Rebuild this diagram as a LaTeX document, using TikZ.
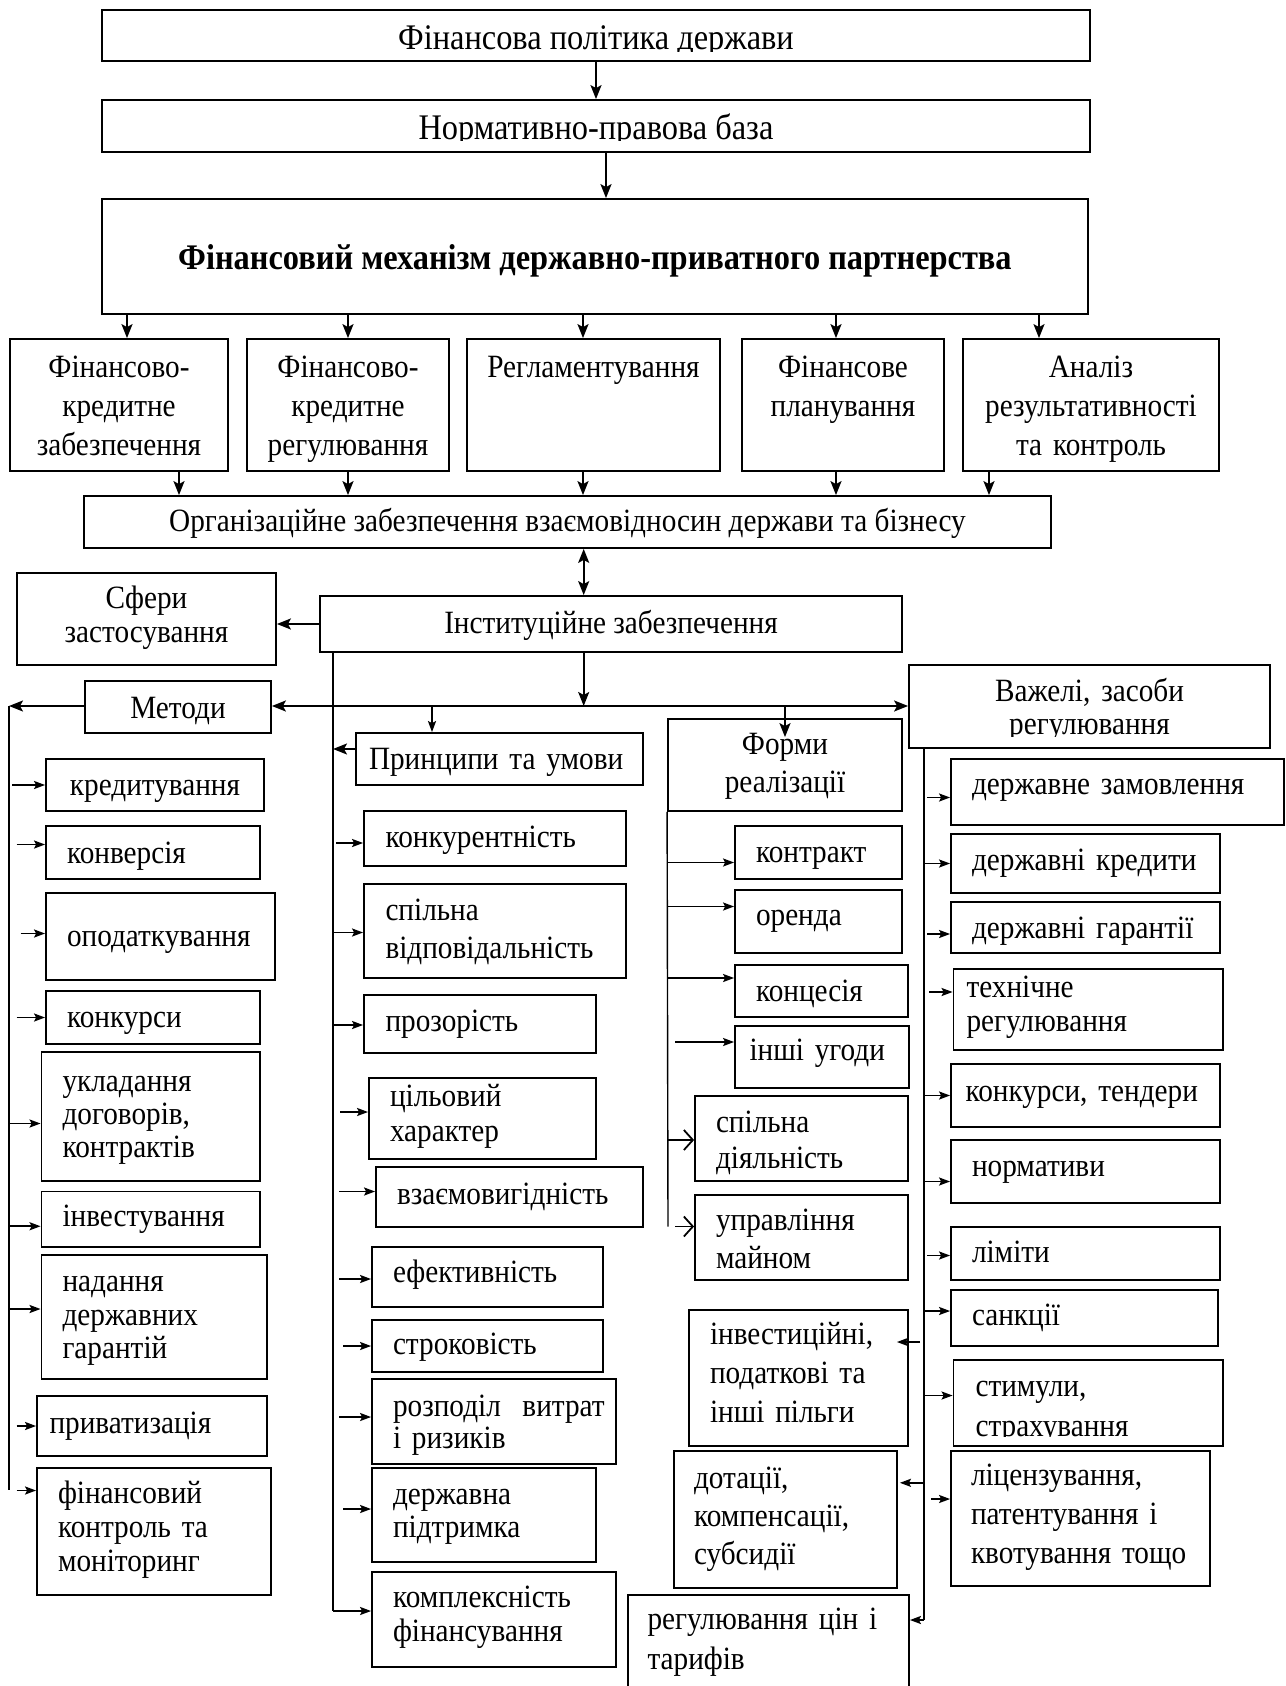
\documentclass[tikz,border=0pt]{standalone}
\usepackage{fontspec}
\setmainfont{Liberation Serif}[FakeStretch=0.9]
\usetikzlibrary{arrows.meta}
\tikzset{
  vpos/.code={\pgfmathsetmacro\vph{23+#1}\pgfmathsetmacro\vpd{23-#1}},
  box/.style={draw,line width=1.8pt,inner sep=0pt,font=\fontsize{32.5}{36}\selectfont,align=center,vpos=8,
    execute at begin node={\rule{0pt}{\vph pt}},
    execute at end node={\rule[-\vpd pt]{0pt}{0pt}}},
  ls/.style={font=\fontsize{32.5}{#1}\selectfont},
  big/.style={font=\fontsize{36}{40}\selectfont},
  lpad/.code={\pgfmathsetmacro\bxtw{\bxw-2*#1}\tikzset{text width=\bxtw pt,align=left}},
  ctr/.code={\pgfmathsetmacro\bxtw{\bxw-4}\tikzset{text width=\bxtw pt,align=center}},
  arr/.style={line width=1.8pt,-{Stealth[length=14pt,width=11pt,inset=3pt]}},
  arrD/.style={line width=1.8pt,{Stealth[length=14pt,width=11pt,inset=3pt]}-{Stealth[length=14pt,width=11pt,inset=3pt]}},
  sarr/.style={line width=1.8pt,-{Stealth[length=11pt,width=8pt,inset=2pt]}},
  oarr/.style={line width=1.8pt,-{Straight Barb[length=9pt,width=20pt]}},
  trunk/.style={line width=1.4pt}
}
\newcommand\bxn[7][]{%
  \pgfmathsetmacro\bxw{#5-#3}\pgfmathsetmacro\bxh{#6-#4}%
  \pgfmathsetmacro\bxcx{(#3+#5)/2}\pgfmathsetmacro\bxcy{(#4+#6)/2}%
  \node[box,minimum width=\bxw pt,minimum height=\bxh pt,#1] (#2) at (\bxcx,\bxcy) {#7};}
\newcommand\tarrw[5][sarr]{\draw[#1] ([xshift=#4pt,yshift=#5pt]#3.west -| #2) -- ([yshift=#5pt]#3.west);}
\begin{document}
\begin{tikzpicture}[x=1pt,y=-1pt]
\path[fill=white,use as bounding box] (0,0) rectangle (1285,1686);

% top chain
\bxn{pol}{102}{10}{1090}{61}{}
\begin{scope}
\clip ([yshift=10.5pt]pol.south west) rectangle (pol.north east);
\node[box,draw=none,big,vpos=14.5] (poltxt) at (pol.center) {Фінансова політика держави};
\end{scope}
\bxn{norm}{102}{100}{1090}{152}{}
\begin{scope}
\clip ([yshift=12.5pt]norm.south west) rectangle (norm.north east);
\node[box,draw=none,big,vpos=13.5] (normtxt) at (norm.center) {Нормативно-правова база};
\end{scope}
\bxn[font=\fontsize{36}{40}\selectfont\bfseries,vpos=12.5]{mech}{102}{199}{1088}{314}{Фінансовий механізм державно-приватного партнерства}
\bxn[ctr,ls=39,vpos=11]{rA}{10}{339}{228}{471}{Фінансово-\\кредитне\\забезпечення}
\bxn[ctr,ls=39,vpos=11]{rB}{247}{339}{449}{471}{Фінансово-\\кредитне\\регулювання}
\bxn[ctr,ls=39,vpos=11]{rC}{467}{339}{720}{471}{Регламентування\\\phantom{Р}\\\phantom{Р}}
\bxn[ctr,ls=39,vpos=11]{rD}{742}{339}{944}{471}{Фінансове\\планування\\\phantom{Р}}
\bxn[ctr,ls=39,vpos=11]{rE}{963}{339}{1219}{471}{Аналіз\\результативності\\та контроль}
\bxn[vpos=9]{org}{84}{496}{1051}{548}{Організаційне забезпечення взаємовідносин держави та бізнесу}
\bxn[ctr,ls=34,vpos=6]{sfery}{17}{573}{276}{665}{Сфери\\застосування}
\bxn[vpos=9]{inst}{320}{596}{902}{652}{Інституційне забезпечення}
\bxn[vpos=11]{metody}{85}{681}{271}{733}{Методи}
\bxn[lpad=13,vpos=10]{princ}{356}{733}{643}{785}{Принципи~та~умови}
\bxn[ctr,ls=37.5,vpos=8.6]{forms}{668}{719}{902}{811}{Форми\\реалізації}
\bxn{vaz}{909}{665}{1270}{748}{}
\begin{scope}
\clip ([yshift=12pt]vaz.south west) rectangle (vaz.north east);
\node[box,draw=none,ctr,ls=33,vpos=11] (vaztxt) at (vaz.center) {Важелі, засоби\\регулювання};
\end{scope}

% methods
\bxn[vpos=10.5]{m1}{46}{759}{264}{811}{кредитування}
\bxn[lpad=21,vpos=11]{m2}{46}{826}{260}{879}{конверсія}
\bxn[lpad=21,vpos=10.3]{m3}{46}{893}{275}{980}{оподаткування}
\bxn[lpad=21,vpos=10.4]{m4}{46}{991}{260}{1044}{конкурси}
\bxn[lpad=21,ls=33,vpos=7.5]{m5}{41.5}{1052}{260}{1181}{укладання\\договорів,\\контрактів}
\bxn[lpad=21,vpos=7]{m6}{41.5}{1191.5}{260}{1247}{інвестування}
\bxn[lpad=21,ls=33.5,vpos=8.3]{m7}{41.5}{1255}{267}{1379}{надання\\державних\\гарантій}
\bxn[lpad=12.5,vpos=7]{m8}{37}{1396}{267}{1456}{приватизація}
\bxn[lpad=21,ls=34,vpos=5.8]{m9}{37}{1468}{271}{1595}{фінансовий\\контроль~та\\моніторинг}

% principles
\bxn[lpad=21.5,vpos=9]{p1}{364}{811}{626}{866}{конкурентність}
\bxn[lpad=21.5,ls=37.5,vpos=8.6]{p2}{364}{884}{626}{978}{спільна\\відповідальність}
\bxn[lpad=21.5,vpos=7]{p3}{364}{995}{596}{1053}{прозорість}
\bxn[lpad=21,ls=35,vpos=5.5]{p4}{369}{1078}{596}{1159}{цільовий\\характер}
\bxn[lpad=21,vpos=7]{p5}{376}{1167}{643}{1227}{взаємовигідність}
\bxn[lpad=21,vpos=5]{p6}{372}{1247}{603}{1307}{ефективність}
\bxn[lpad=21,vpos=8]{p7}{372}{1320}{603}{1372}{строковість}
\bxn[lpad=21,ls=32,vpos=10.5]{p8}{372}{1379}{616}{1464}{розподіл~~витрат\\і~ризиків}
\bxn[lpad=21,ls=33,vpos=5.8]{p9}{372}{1468}{596}{1562}{державна\\підтримка}
\bxn[lpad=21,ls=34,vpos=4.8]{p10}{372}{1572}{616}{1667}{комплексність\\фінансування}

% forms
\bxn[lpad=21,vpos=9.5]{f1}{735}{826}{902}{879}{контракт}
\bxn[lpad=21,vpos=4]{f2}{735}{890}{902}{953}{оренда}
\bxn[lpad=21,vpos=10]{f3}{735}{965}{908}{1017}{концесія}
\bxn[lpad=14.5,vpos=3]{f4}{735}{1026}{909}{1088}{інші~угоди}
\bxn[lpad=21,ls=36,vpos=12]{f5}{695}{1096}{908}{1181}{спільна\\діяльність}
\bxn[lpad=21,ls=38,vpos=11.8]{f6}{695}{1195}{908}{1280}{управління\\майном}
\bxn[lpad=21,ls=39,vpos=5]{f7}{689}{1310}{908}{1446}{інвестиційні,\\податкові~та\\інші~пільги}
\bxn[lpad=20,ls=38,vpos=6.8]{f8}{674}{1451}{897}{1588}{дотації,\\компенсації,\\субсидії}
\bxn[lpad=19.5,ls=40,vpos=7]{f9}{628}{1595}{909}{1689}{регулювання~цін~і\\тарифів}

% levers
\bxn[lpad=21,vpos=2]{v1}{951}{759}{1284}{825}{державне~замовлення}
\bxn[lpad=21,vpos=6.5]{v2}{951}{834}{1220}{893}{державні~кредити}
\bxn[lpad=21,vpos=11]{v3}{951}{902}{1220}{953}{державні~гарантії}
\bxn[lpad=13,ls=34,vpos=4.8]{v4}{953.5}{969}{1223}{1050}{технічне\\регулювання}
\bxn[lpad=14.5,vpos=5.8]{v5}{951}{1064}{1220}{1127}{конкурси,~тендери}
\bxn[lpad=21,vpos=4.5]{v6}{951}{1140}{1220}{1203}{нормативи}
\bxn[lpad=21,vpos=8.8]{v7}{951}{1227}{1220}{1280}{ліміти}
\bxn[lpad=21,vpos=7.3]{v8}{951}{1290}{1218}{1346}{санкції}
\bxn{v9}{953.5}{1360}{1223}{1446}{}
\begin{scope}
\clip ([yshift=10pt]v9.south west) rectangle (v9.north east);
\node[box,draw=none,minimum width=\bxw pt,minimum height=\bxh pt,lpad=22,ls=40,vpos=13] (v9txt) at (v9.center) {стимули,\\страхування};
\end{scope}
\bxn[lpad=20,ls=39,vpos=5.8]{v10}{951}{1451}{1210}{1586}{ліцензування,\\патентування~і\\квотування~тощо}

% coordinates
\coordinate (c1) at (596,0); \coordinate (c2) at (606,0);
\coordinate (a1) at (127,0); \coordinate (a2) at (348,0); \coordinate (a3) at (583,0);
\coordinate (a4) at (836,0); \coordinate (a5) at (1039,0);
\coordinate (b1) at (179,0); \coordinate (b2) at (348,0); \coordinate (b3) at (583,0);
\coordinate (b4) at (836,0); \coordinate (b5) at (989,0);
\coordinate (j1) at (583.7,706); \coordinate (j2) at (432,706); \coordinate (j3) at (785,706);
\coordinate (tMa) at (9,706); \coordinate (tMb) at (9,1490);
\coordinate (tPx) at (333,0); \coordinate (tPb) at (333,1611);
\coordinate (tFx) at (668,0); \coordinate (tFb) at (668,1226.5);
\coordinate (tVx) at (924,0); \coordinate (tVb) at (924,1620);

% main arrows
\draw[arr] (pol.south -| c1) -- (norm.north -| c1);
\draw[arr] (norm.south -| c2) -- (mech.north -| c2);
\foreach \a/\b in {a1/rA,a2/rB,a3/rC,a4/rD,a5/rE}
  \draw[arr] (mech.south -| \a) -- (\b.north -| \a);
\foreach \a/\b in {b1/rA,b2/rB,b3/rC,b4/rD,b5/rE}
  \draw[arr] (\b.south -| \a) -- (org.north -| \a);
\draw[arrD] (org.south -| j1) -- (inst.north -| j1);
\draw[arr] (inst.west) -- (inst.west -| sfery.east);
\draw[arr] (inst.south -| j1) -- (j1);
\draw[arrD] (metody.east |- j1) -- (vaz.west |- j1);
\draw[sarr] (j2) -- (j2 |- princ.north);
\draw[arr] (j3) -- ([yshift=-19pt]forms.north);
\draw[arr] (metody.west |- tMa) -- (tMa);
\draw[trunk] (tMa) -- (tMb);
\draw[trunk] (inst.south -| tPx) -- (tPb);
\draw[arr] ([yshift=10pt]princ.west) -- ([yshift=10pt]princ.west -| tPx);
\draw[trunk] (forms.south west) -- (tFb);
\draw[trunk] (vaz.south -| tVx) -- (tVb);

% methods arrows
\tarrw{tMa}{m1}{3}{0}
\tarrw{tMa}{m2}{7.6}{8}
\tarrw{tMa}{m3}{11.7}{3}
\tarrw{tMa}{m4}{7.6}{0}
\tarrw{tMa}{m5}{0}{-7}
\tarrw{tMa}{m6}{0}{-7}
\tarrw{tMa}{m7}{0}{8}
\tarrw{tMa}{m8}{7.6}{0}
\tarrw{tMa}{m9}{7.6}{41}

% principles arrows
\tarrw{tPx}{p1}{3}{-4.5}
\tarrw{tPx}{p2}{0}{-1.5}
\tarrw{tPx}{p3}{0}{-1}
\tarrw{tPx}{p4}{7}{6.5}
\tarrw{tPx}{p5}{6}{5.5}
\tarrw{tPx}{p6}{6}{-2}
\tarrw{tPx}{p7}{10}{0}
\tarrw{tPx}{p8}{6}{4.5}
\tarrw{tPx}{p9}{10}{6}
\tarrw{tPx}{p10}{0}{8.5}

% forms arrows
\tarrw{tFx}{f1}{0}{-10}
\tarrw{tFx}{f2}{0}{15}
\tarrw{tFx}{f3}{0}{13}
\tarrw{tFx}{f4}{7}{15}
\tarrw[oarr]{tFx}{f5}{0}{-1.5}
\tarrw[oarr]{tFx}{f6}{7}{11}

% levers arrows
\tarrw{tVx}{v1}{3}{-5.5}
\tarrw{tVx}{v2}{0}{0}
\tarrw{tVx}{v3}{3}{-6.5}
\tarrw{tVx}{v4}{5}{17.5}
\tarrw{tVx}{v5}{0}{0}
\tarrw{tVx}{v6}{0}{-10}
\tarrw{tVx}{v7}{3}{-2}
\tarrw{tVx}{v8}{0}{7}
\tarrw{tVx}{v9}{0}{7.5}
\tarrw{tVx}{v10}{7}{19.5}
\draw[sarr] ([xshift=-4pt,yshift=36pt]f7.east -| tVx) -- ([xshift=-12pt,yshift=36pt]f7.east);
\draw[sarr] ([yshift=36.7pt]f8.east -| tVx) -- ([xshift=2pt,yshift=36.7pt]f8.east);
\draw[sarr] (tVb) -- (tVb -| f9.east);
\end{tikzpicture}
\end{document}
